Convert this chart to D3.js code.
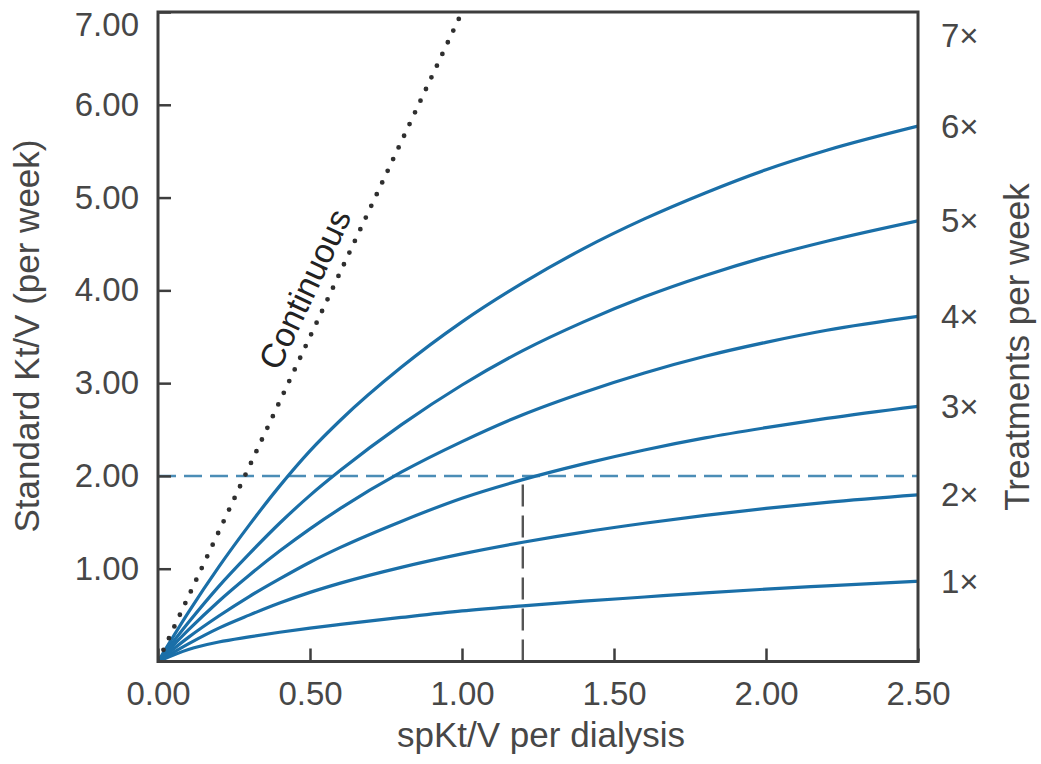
<!DOCTYPE html>
<html>
<head>
<meta charset="utf-8">
<script src="https://cdn.jsdelivr.net/npm/d3@7"></script>
<style>
  html, body { margin: 0; padding: 0; background: #fff; }
  svg { display: block; }
  text { font-family: "Liberation Sans", Arial, Helvetica, sans-serif; fill: #474747; }
</style>
</head>
<body>
<svg id="chart" width="1041" height="764"></svg>
<script>
// spKt/V per dialysis (sample positions along each curve)
const spKtV = [0, 0.1, 0.2, 0.3, 0.4, 0.5, 0.6, 0.8, 1.0, 1.2, 1.4, 1.6, 1.8, 2.0, 2.2, 2.5];

// Standard Kt/V (per week) for 1 to 6 treatments per week
const std1x = [0, 0.13, 0.21, 0.265, 0.315, 0.36, 0.40, 0.475, 0.545, 0.60, 0.65, 0.695, 0.74, 0.78, 0.815, 0.865];
const std2x = [0, 0.19, 0.36, 0.50, 0.63, 0.745, 0.845, 1.015, 1.16, 1.285, 1.395, 1.49, 1.575, 1.65, 1.715, 1.795];
const std3x = [0, 0.26, 0.49, 0.70, 0.89, 1.07, 1.23, 1.51, 1.76, 1.96, 2.13, 2.28, 2.41, 2.52, 2.62, 2.75];
const std4x = [0, 0.34, 0.65, 0.93, 1.19, 1.43, 1.65, 2.04, 2.37, 2.66, 2.90, 3.11, 3.29, 3.44, 3.57, 3.72];
const std5x = [0, 0.42, 0.81, 1.16, 1.49, 1.79, 2.06, 2.55, 2.98, 3.35, 3.66, 3.93, 4.16, 4.36, 4.53, 4.75];
const std6x = [0, 0.53, 1.02, 1.47, 1.89, 2.27, 2.60, 3.17, 3.66, 4.08, 4.45, 4.77, 5.05, 5.30, 5.51, 5.77];
const treatmentSeries = [std1x, std2x, std3x, std4x, std5x, std6x];

// Continuous therapy: straight line through the origin
const continuousX = [0, 1.0];
const continuousY = [0, 7.0];

// Reference lines: target standard Kt/V and the thrice-weekly spKt/V that reaches it
const targetStd = 2.0;
const targetSp = 1.2;

// Tick labels
const xTicks = [0, 0.5, 1.0, 1.5, 2.0, 2.5];
const yTicks = [1, 2, 3, 4, 5, 6, 7];
const freqLabels = ["1×", "2×", "3×", "4×", "5×", "6×", "7×"];
const topFreqValue = 6.75; // position of the 7× label on the right

const svg = d3.select("#chart");
const plotLeft = 158, plotRight = 918, plotTop = 12, plotBottom = 661.5;

const x = d3.scaleLinear().domain([0, 2.5]).range([plotLeft, plotRight]);
const y = d3.scaleLinear().domain([0, 7]).range([plotBottom, plotTop]);

const blue = "#1a6fa8";
const frameColor = "#3d3d3d";

// Treatment curves
const line = d3.line()
  .x((d) => x(d[0]))
  .y((d) => y(d[1]))
  .curve(d3.curveMonotoneX);

svg.append("defs").append("clipPath").attr("id", "plotClip")
  .append("rect").attr("x", plotLeft).attr("y", plotTop)
  .attr("width", plotRight - plotLeft).attr("height", plotBottom - plotTop);

const inner = svg.append("g").attr("clip-path", "url(#plotClip)");

// horizontal target line
inner.append("line")
  .attr("x1", x(0)).attr("x2", x(2.5))
  .attr("y1", y(targetStd)).attr("y2", y(targetStd))
  .attr("stroke", "#4b8db6").attr("stroke-width", 2.4)
  .attr("stroke-dasharray", "18,8");

// vertical line at the thrice-weekly dose
inner.append("line")
  .attr("x1", x(targetSp)).attr("x2", x(targetSp))
  .attr("y1", y(0)).attr("y2", y(targetStd))
  .attr("stroke", "#555").attr("stroke-width", 2.4)
  .attr("stroke-dasharray", "22,9");

treatmentSeries.forEach((vals) => {
  inner.append("path")
    .datum(spKtV.map((s, i) => [s, vals[i]]))
    .attr("d", line)
    .attr("fill", "none")
    .attr("stroke", blue)
    .attr("stroke-width", 3.2)
    .attr("stroke-linejoin", "round");
});

// continuous (dotted) line
inner.append("path")
  .datum(continuousX.map((s, i) => [s, continuousY[i]]))
  .attr("d", d3.line().x((d) => x(d[0])).y((d) => y(d[1])))
  .attr("fill", "none")
  .attr("stroke", "#2f2f2f")
  .attr("stroke-width", 4.8)
  .attr("stroke-linecap", "round")
  .attr("stroke-dasharray", "0,12.9");

// label along the continuous line
const ang = Math.atan2(y(continuousY[1]) - y(continuousY[0]), x(continuousX[1]) - x(continuousX[0]));
const lx = x(0.557), ly = y(3.9);
const off = 13;
svg.append("text")
  .attr("transform", `translate(${lx + off * Math.sin(ang)},${ly - off * Math.cos(ang)}) rotate(${ang * 180 / Math.PI})`)
  .attr("text-anchor", "middle")
  .style("font-size", "34px")
  .style("fill", "#222")
  .text("Continuous");

// Axes
const xAxis = d3.axisBottom(x)
  .tickValues(xTicks)
  .tickFormat(d3.format(".2f"))
  .tickSizeInner(-13).tickSizeOuter(0).tickPadding(20);
const gx = svg.append("g").attr("transform", `translate(0,${plotBottom})`).call(xAxis);

const yAxis = d3.axisLeft(y)
  .tickValues(yTicks)
  .tickFormat(d3.format(".2f"))
  .tickSizeInner(-13).tickSizeOuter(0).tickPadding(19);
const gy = svg.append("g").attr("transform", `translate(${plotLeft},0)`).call(yAxis);

[gx, gy].forEach((g) => {
  g.select(".domain").remove();
  g.attr("font-family", null).attr("font-size", null);
  g.selectAll(".tick line").attr("stroke", frameColor).attr("stroke-width", 2.5);
  g.selectAll(".tick text").style("font-size", "33px").style("fill", "#474747").attr("fill", null);
});
// keep the top label inside the frame height
gy.selectAll(".tick").filter((d) => d === 7).select("text").attr("dy", "0.7em");

// frame
svg.append("rect")
  .attr("x", plotLeft).attr("y", plotTop)
  .attr("width", plotRight - plotLeft).attr("height", plotBottom - plotTop)
  .attr("fill", "none").attr("stroke", frameColor).attr("stroke-width", 3);

// treatments-per-week labels on the right
const freqValues = treatmentSeries.map((s) => s[s.length - 1]).concat([topFreqValue]);
svg.append("g").selectAll("text")
  .data(freqLabels)
  .join("text")
  .attr("x", 941)
  .attr("y", (d, i) => y(freqValues[i]))
  .attr("dy", "0.35em")
  .style("font-size", "33px")
  .text((d) => d);

// axis titles
svg.append("text")
  .attr("x", (plotLeft + plotRight) / 2 + 3).attr("y", 747)
  .attr("text-anchor", "middle")
  .style("font-size", "35px")
  .text("spKt/V per dialysis");

svg.append("text")
  .attr("transform", "translate(39,336) rotate(-90)")
  .attr("text-anchor", "middle")
  .style("font-size", "35px")
  .text("Standard Kt/V (per week)");

svg.append("text")
  .attr("transform", "translate(1029,347) rotate(-90)")
  .attr("text-anchor", "middle")
  .style("font-size", "35px")
  .text("Treatments per week");
</script>
</body>
</html>
